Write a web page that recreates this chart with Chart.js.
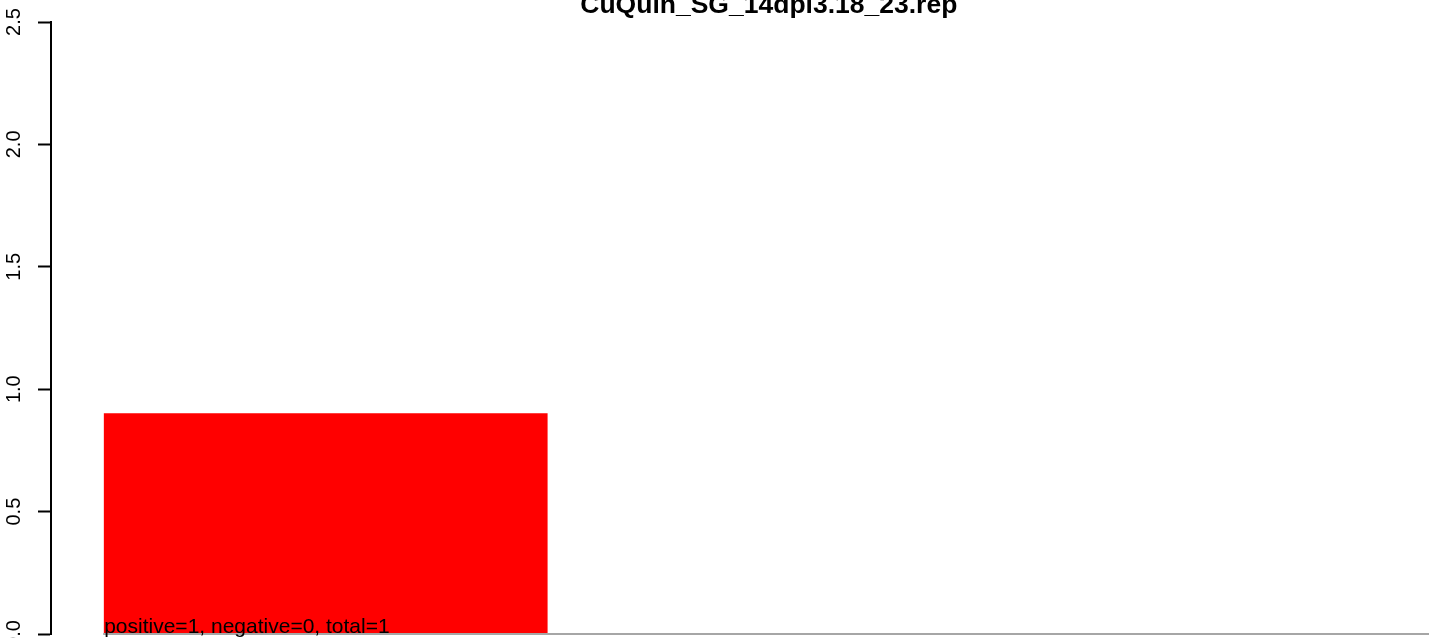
<!DOCTYPE html>
<html>
<head>
<meta charset="utf-8">
<script src="https://cdn.jsdelivr.net/npm/chart.js@4.4.0/dist/chart.umd.min.js"></script>
<style>
  html, body { margin: 0; padding: 0; background: #fff; overflow: hidden; }
  #wrap { width: 1429px; height: 638px; position: relative; }
</style>
</head>
<body>
<div id="wrap"><canvas id="chart"></canvas></div>
<script>
const chartTitle = "CuQuin_SG_14dpi3.18_23.rep";
const barValues = [0.9];
const xLimits = [0.2, 3.2];          // xlim used by barplot
const yTicks = [0, 0.5, 1, 1.5, 2, 2.5];
const countNames = ["positive", "negative", "total"];
const countValues = [1, 0, 1];

// R barplot geometry: width 1, space 0.2
const BAR_W = 1;
const BAR_SPACE = 0.2;
const barPoints = barValues.map((v, i) => ({
  x: BAR_SPACE + BAR_W / 2 + i * (BAR_W + BAR_SPACE),
  y: v,
}));
const xPad = 0.04 * (xLimits[1] - xLimits[0]);

const FONT = "'Liberation Sans', Arial, Helvetica, sans-serif";

// axis labels, title and the count text, drawn the base-graphics way
const rPlot = {
  id: "rPlot",
  afterDatasetsDraw(chart) {
    const { ctx, scales: { x, y } } = chart;
    const y0 = y.getPixelForValue(0);
    ctx.save();

    // grey line along y = 0
    ctx.strokeStyle = "#a6a6a6";
    ctx.lineWidth = 2;
    ctx.beginPath();
    ctx.moveTo(x.getPixelForValue(xLimits[0]) - 1, y0);
    ctx.lineTo(x.getPixelForValue(xLimits[1]), y0);
    ctx.stroke();

    // count text at the left end of the bars
    ctx.fillStyle = "#000";
    ctx.font = "21px " + FONT;
    ctx.textAlign = "left";
    ctx.textBaseline = "alphabetic";
    const txt = countNames.map((n, i) => n + "=" + countValues[i]).join(", ");
    ctx.fillText(txt, x.getPixelForValue(xLimits[0]), y0 - 1);

    // rotated y tick labels
    ctx.font = "20px " + FONT;
    ctx.textAlign = "center";
    yTicks.forEach((t) => {
      ctx.save();
      ctx.translate(20, y.getPixelForValue(t));
      ctx.rotate(-Math.PI / 2);
      ctx.fillText(t.toFixed(1), 0, 0);
      ctx.restore();
    });

    // main title, centred over the plot region
    ctx.font = "bold 26.5px " + FONT;
    ctx.textAlign = "center";
    ctx.fillText(chartTitle, x.getPixelForValue((xLimits[0] + xLimits[1]) / 2), 13);

    ctx.restore();
  },
};

const ctx = document.getElementById("chart").getContext("2d");
const chart = new Chart(ctx, {
  type: "bar",
  data: {
    datasets: [
      {
        data: barPoints,
        backgroundColor: "#ff0000",
        borderWidth: 0,
        barThickness: 100,
      },
    ],
  },
  options: {
    responsive: true,
    maintainAspectRatio: false,
    animation: false,
    layout: { padding: { top: 22, bottom: 4, left: 0, right: 0 } },
    plugins: {
      legend: { display: false },
      title: { display: false },
      tooltip: { enabled: false },
    },
    scales: {
      x: {
        type: "linear",
        display: false,
        offset: false,
        grid: { offset: false },
        min: xLimits[0] - xPad,
        max: 3.19, // window cuts the plot on the right
      },
      y: {
        min: 0,
        max: 2.5,
        afterFit(scale) { scale.width = 51; },
        afterBuildTicks(scale) { scale.ticks = yTicks.map((v) => ({ value: v })); },
        ticks: { display: false },
        grid: {
          drawOnChartArea: false,
          drawTicks: true,
          tickLength: 13,
          tickWidth: 2,
          tickColor: "#000",
        },
        border: { display: true, color: "#000", width: 2 },
      },
    },
  },
  plugins: [rPlot],
});

// bar width in pixels follows the x scale (one bar = 1 unit)
const xs = chart.scales.x;
chart.data.datasets[0].barThickness =
  xs.getPixelForValue(BAR_W) - xs.getPixelForValue(0);
chart.update("none");
</script>
</body>
</html>
